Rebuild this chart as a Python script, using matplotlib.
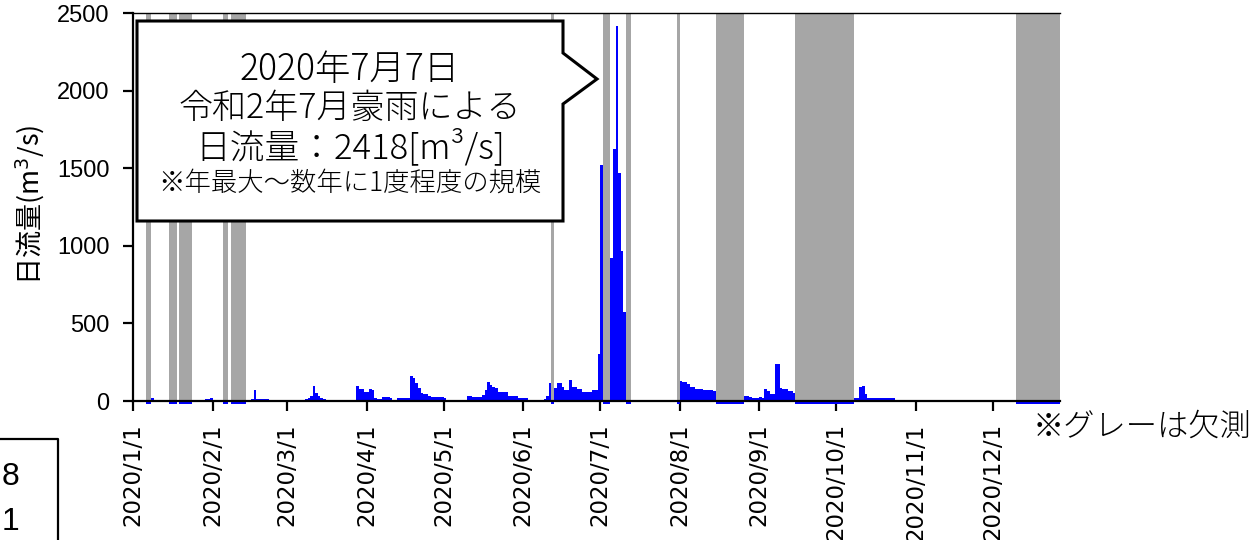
import matplotlib
matplotlib.use("Agg")
import matplotlib.pyplot as plt
import numpy as np
from matplotlib.patches import Polygon
from matplotlib.lines import Line2D

# ---------------- data (daily flow, m3/s; None = 欠測) ----------------
M = None
jan = [0, 0, 0, 0, 0, M, M, 20, 0, 0, 0, 0, 0, 0, M, M, M, 0, M, M, M, M, M,
       0, 0, 0, 0, 6, 12, 15, 17]
feb = [0, 0, 0, 0, M, M, 0, M, M, M, M, M, M, 0, 0, 12, 69, 14, 12, 12, 11, 10, 8,
       3, 3, 3, 3, 3, 3]
mar = [2, 2, 2, 2, 2, 2, 2, 10, 18, 35, 94, 54, 30, 21, 12, 8,
       2, 2, 2, 2, 2, 2, 2, 2, 2, 2, 2, 97, 75, 75, 60]
apr = [60, 80, 69, 21, 15, 15, 26, 26, 26, 17, 4, 4, 17, 17, 17, 17, 17,
       159, 146, 118, 82, 54, 43, 43, 35, 26, 26, 26, 26, 26]
may = [20, 4, 4, 4, 4, 4, 4, 4, 4, 32, 32, 28, 28, 28, 28, 36, 69, 122, 103, 90, 82,
       60, 60, 60, 60, 32, 32, 32, 32, 17, 17]
jun = [17, 17, 9, 9, 9, 9, 9, 9, 10, 34, 118, M, 86, 113, 113, 92, 71, 71, 135, 92,
       92, 78, 78, 61, 61, 61, 55, 71, 71, 301]
jul = [1520, M, M, M, 923, 1622, 2418, 1467, 966, 571, M, M,
       0, 0, 0, 0, 0, 0, 0, 0, 0, 0, 0, 0, 0, 0, 0, 0, 0, 0, M]
aug = [129, 125, 122, 107, 90, 90, 79, 79, 79, 71, 71, 71, 71, 64,
       M, M, M, M, M, M, M, M, M, M, M, 32, 30, 25, 17, 17, 17]
sep = [28, 17, 75, 64, 43, 43, 240, 236, 82, 75, 75, 64, 64, 54,
       M, M, M, M, M, M, M, M, M, M, M, M, M, M, M, M]
oct_ = [M, M, M, M, M, M, M, 21, 21, 90, 94, 43, 17, 17, 17, 17, 21, 21, 17, 17,
        21, 21, 21, 9, 4, 4, 4, 4, 2, 2, 2]
nov = [2] * 19 + [6, 6] + [2] * 6 + [6, 6, 6]
dec = [1] * 9 + [M] * 22

month_labels = ["2020/1/1", "2020/2/1", "2020/3/1", "2020/4/1", "2020/5/1",
                "2020/6/1", "2020/7/1", "2020/8/1", "2020/9/1", "2020/10/1",
                "2020/11/1", "2020/12/1"]
y_ticks = [0, 500, 1000, 1500, 2000, 2500]

callout_lines = ["2020年7月7日", "令和2年7月豪雨による", "日流量：2418[m³/s]",
                 "※年最大～数年に1度程度の規模"]
note_text = "※グレーは欠測"
ylabel_text = "日流量(m$^3$/s)"
fragment_texts = ["8", "1"]

# ---------------- build ----------------
months = [jan, feb, mar, apr, may, jun, jul, aug, sep, oct_, nov, dec]
flow = [v for m in months for v in m]
month_starts = np.cumsum([0] + [len(m) for m in months[:-1]])
values = np.array([np.nan if v is None else v for v in flow], dtype=float)
missing = np.isnan(values)
days = np.arange(len(values))

YMAX = 2500
MISS_MARK = 20  # small marker below axis on missing days
blue = np.where(missing, -MISS_MARK, values)
gray = np.where(missing, YMAX, 0)

W, H = 1260, 540
fig = plt.figure(figsize=(W / 100, H / 100), dpi=100)

def fx(px):
    return px / W

def fy(py):
    return 1 - py / H

ax_left, ax_right, ax_top = 133, 1060, 13
y0_px = 401
ppu = (y0_px - ax_top) / YMAX
ymin = -22
ax_bottom = y0_px + (-ymin) * ppu
ax = fig.add_axes([fx(ax_left), fy(ax_bottom), fx(ax_right - ax_left),
                   (ax_bottom - ax_top) / H])

ax.bar(days, gray, width=1, align="edge", color="#a6a6a6", linewidth=0, zorder=1)
ax.bar(days, blue, width=1, align="edge", color="#0000ff", linewidth=0, zorder=2)

ax.set_xlim(0, (ax_right - ax_left) / 2.567)
ax.set_ylim(ymin, YMAX)

ax.spines["bottom"].set_position(("data", 0))
ax.spines["right"].set_visible(False)
ax.spines["left"].set_linewidth(1.6)
ax.spines["bottom"].set_linewidth(1.6)
ax.spines["top"].set_linewidth(1.0)
ax.spines["left"].set_bounds(0, YMAX)
for s in ax.spines.values():
    s.set_zorder(3)

ax.set_xticks(month_starts)
ax.set_xticklabels(month_labels, rotation=90, fontsize=16.5, family="DejaVu Sans",
                   va="top", ha="center")
ax.set_yticks(y_ticks)
ax.set_yticklabels([str(t) for t in y_ticks], fontsize=17, family="Liberation Sans")
ax.tick_params(axis="x", length=7, width=1.6, pad=9, direction="out")
ax.tick_params(axis="y", length=7, width=1.6, pad=10, direction="out")

fig.text(fx(30), fy(205), ylabel_text, rotation=90, ha="center", va="center",
         fontsize=19.5, family=["Noto Sans CJK JP", "DejaVu Sans"])

# callout
pts = [(137, 21), (563, 21), (563, 53), (597, 79), (563, 104), (563, 221), (137, 221)]
poly = Polygon([(fx(x), fy(y)) for x, y in pts], closed=True, transform=fig.transFigure,
               facecolor="white", edgecolor="black", linewidth=2.2, zorder=5,
               joinstyle="miter")
fig.add_artist(poly)
cx = 350
line_y = [70, 108, 147, 183]
line_fs = [25.5, 24.5, 25, 19]
for txt, yy, fs in zip(callout_lines, line_y, line_fs):
    fig.text(fx(cx), fy(yy), txt, ha="center", va="center", fontsize=fs,
             family=["Noto Sans CJK JP", "DejaVu Sans"], fontweight="light", zorder=6)

fig.text(fx(1033), fy(427), note_text, ha="left", va="center", fontsize=22.5,
         family=["Noto Sans CJK JP", "DejaVu Sans"], fontweight="light")

# leftover fragment at bottom-left
fig.add_artist(Line2D([fx(0), fx(58), fx(58)], [fy(439), fy(439), fy(541)],
                      transform=fig.transFigure, color="black", linewidth=1.6))
fig.text(fx(2), fy(477), fragment_texts[0], ha="left", va="center", fontsize=23,
         family="Liberation Sans")
fig.text(fx(2), fy(522), fragment_texts[1], ha="left", va="center", fontsize=23,
         family="Liberation Sans")

fig.savefig("out.png", dpi=100)
